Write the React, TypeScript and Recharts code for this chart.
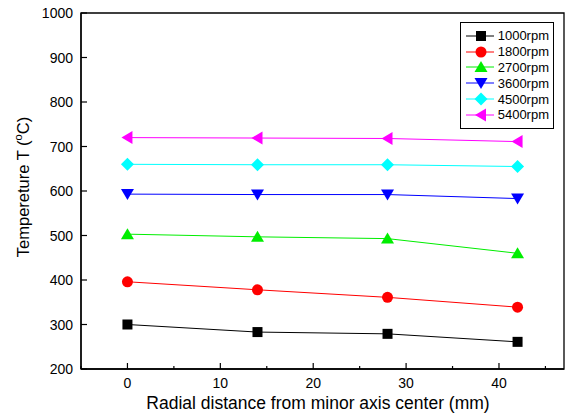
import React from 'react';
import { LineChart, Line, XAxis, YAxis, ReferenceArea } from 'recharts';

const distances = [0, 14, 28, 42];
const t1000 = [300, 283, 279, 261];
const t1800 = [396, 378, 361, 339];
const t2700 = [503, 497, 493, 460];
const t3600 = [593, 592, 592, 583];
const t4500 = [660, 659, 659, 655];
const t5400 = [720, 719, 718, 711];

const xTicks = [-5, 0, 5, 10, 15, 20, 25, 30, 35, 40, 45];
const yTicks = [200, 250, 300, 350, 400, 450, 500, 550, 600, 650, 700, 750, 800, 850, 900, 950, 1000];

const series = [
  { key: 'r1000', name: '1000rpm', color: '#000000', shape: 'square', values: t1000 },
  { key: 'r1800', name: '1800rpm', color: '#ff0000', shape: 'circle', values: t1800 },
  { key: 'r2700', name: '2700rpm', color: '#00ee00', shape: 'up', values: t2700 },
  { key: 'r3600', name: '3600rpm', color: '#0000ff', shape: 'down', values: t3600 },
  { key: 'r4500', name: '4500rpm', color: '#00ffff', shape: 'diamond', values: t4500 },
  { key: 'r5400', name: '5400rpm', color: '#ff00ff', shape: 'left', values: t5400 },
];

const rows = distances.map((d, i) => {
  const row: Record<string, number> = { d };
  series.forEach((s) => { row[s.key] = s.values[i]; });
  return row;
});

const FONT = 'Arial, "Liberation Sans", sans-serif';

function Marker({ cx, cy, shape, color }: { cx: number; cy: number; shape: string; color: string }) {
  if (cx == null || cy == null) return null;
  switch (shape) {
    case 'square':
      return <rect x={cx - 5} y={cy - 5} width={10} height={10} fill={color} />;
    case 'circle':
      return <circle cx={cx} cy={cy} r={5.5} fill={color} />;
    case 'up':
      return <polygon points={`${cx},${cy - 6} ${cx + 6.5},${cy + 5} ${cx - 6.5},${cy + 5}`} fill={color} />;
    case 'down':
      return <polygon points={`${cx},${cy + 6} ${cx + 6.5},${cy - 5} ${cx - 6.5},${cy - 5}`} fill={color} />;
    case 'diamond':
      return <polygon points={`${cx},${cy - 6.5} ${cx + 6.5},${cy} ${cx},${cy + 6.5} ${cx - 6.5},${cy}`} fill={color} />;
    case 'left':
      return <polygon points={`${cx - 6},${cy} ${cx + 5},${cy - 6.5} ${cx + 5},${cy + 6.5}`} fill={color} />;
    default:
      return null;
  }
}

const YTick = (props: any) => {
  const { x, y, payload } = props;
  const major = payload.value % 100 === 0;
  return (
    <g>
      <line x1={x} y1={y} x2={x + (major ? 6 : 3)} y2={y} stroke="#000" strokeWidth={1.2} />
      {major && (
        <text x={x - 8} y={y} dy={5} textAnchor="end" fontSize={14} fontFamily={FONT} fill="#000">
          {payload.value}
        </text>
      )}
    </g>
  );
};

const XTick = (props: any) => {
  const { x, y, payload } = props;
  const major = payload.value % 10 === 0;
  return (
    <g>
      <line x1={x} y1={y} x2={x} y2={y - (major ? 6 : 3)} stroke="#000" strokeWidth={1.2} />
      {major && (
        <text x={x} y={y + 19} textAnchor="middle" fontSize={14} fontFamily={FONT} fill="#000">
          {payload.value}
        </text>
      )}
    </g>
  );
};

const LegendBox = () => (
  <div style={{ position: 'absolute', left: 460, top: 22, border: '1px solid #000', background: '#fff', padding: '5px 4px 5px 5px', width: 83, fontFamily: FONT }}>
    {series.map((s) => (
      <div key={s.key} style={{ display: 'flex', alignItems: 'center', height: 15.8 }}>
        <svg width={30} height={14}>
          <line x1={0} y1={7} x2={30} y2={7} stroke={s.color} strokeWidth={1} />
          <Marker cx={15} cy={7} shape={s.shape} color={s.color} />
        </svg>
        <span style={{ fontSize: 13, marginLeft: 4, color: '#000' }}>{s.name}</span>
      </div>
    ))}
  </div>
);

export default function App() {
  return (
    <div style={{ position: 'absolute', left: 0, top: 0, width: 565, height: 418, background: '#fff' }}>
      <LineChart width={565} height={418} data={rows} margin={{ top: 13, right: 1, bottom: 0, left: 0 }}>
        <XAxis
          dataKey="d"
          type="number"
          domain={[-5, 47]}
          ticks={xTicks}
          tick={<XTick />}
          tickLine={false}
          tickSize={0}
          tickMargin={0}
          height={49}
          axisLine={{ stroke: '#000', strokeWidth: 1.3 }}
        />
        <YAxis
          type="number"
          domain={[200, 1000]}
          ticks={yTicks}
          tick={<YTick />}
          tickLine={false}
          tickSize={0}
          tickMargin={0}
          width={81}
          axisLine={{ stroke: '#000', strokeWidth: 1.3 }}
        />
        <ReferenceArea x1={-5} x2={47} y1={200} y2={1000} fill="none" stroke="#000" strokeWidth={1.3} ifOverflow="visible" />
        {series.map((s) => (
          <Line
            key={s.key}
            dataKey={s.key}
            name={s.name}
            stroke={s.color}
            strokeWidth={1}
            isAnimationActive={false}
            dot={(p: any) => <Marker key={`${s.key}-${p.index}`} cx={p.cx} cy={p.cy} shape={s.shape} color={s.color} />}
            activeDot={false}
          />
        ))}
      </LineChart>
      <svg width={565} height={418} style={{ position: 'absolute', left: 0, top: 0, pointerEvents: 'none' }}>
        <text transform="translate(29 187) rotate(-90)" x={0} y={0} textAnchor="middle" fontSize={16.5} fontFamily={FONT} fill="#000">
          Tempereture T (<tspan fontSize={11} dy={-7}>o</tspan><tspan dy={7}>C)</tspan>
        </text>
        <text x={318} y={409} textAnchor="middle" fontSize={17.5} fontFamily={FONT} fill="#000">
          Radial distance from minor axis center (mm)
        </text>
      </svg>
      <LegendBox />
    </div>
  );
}
